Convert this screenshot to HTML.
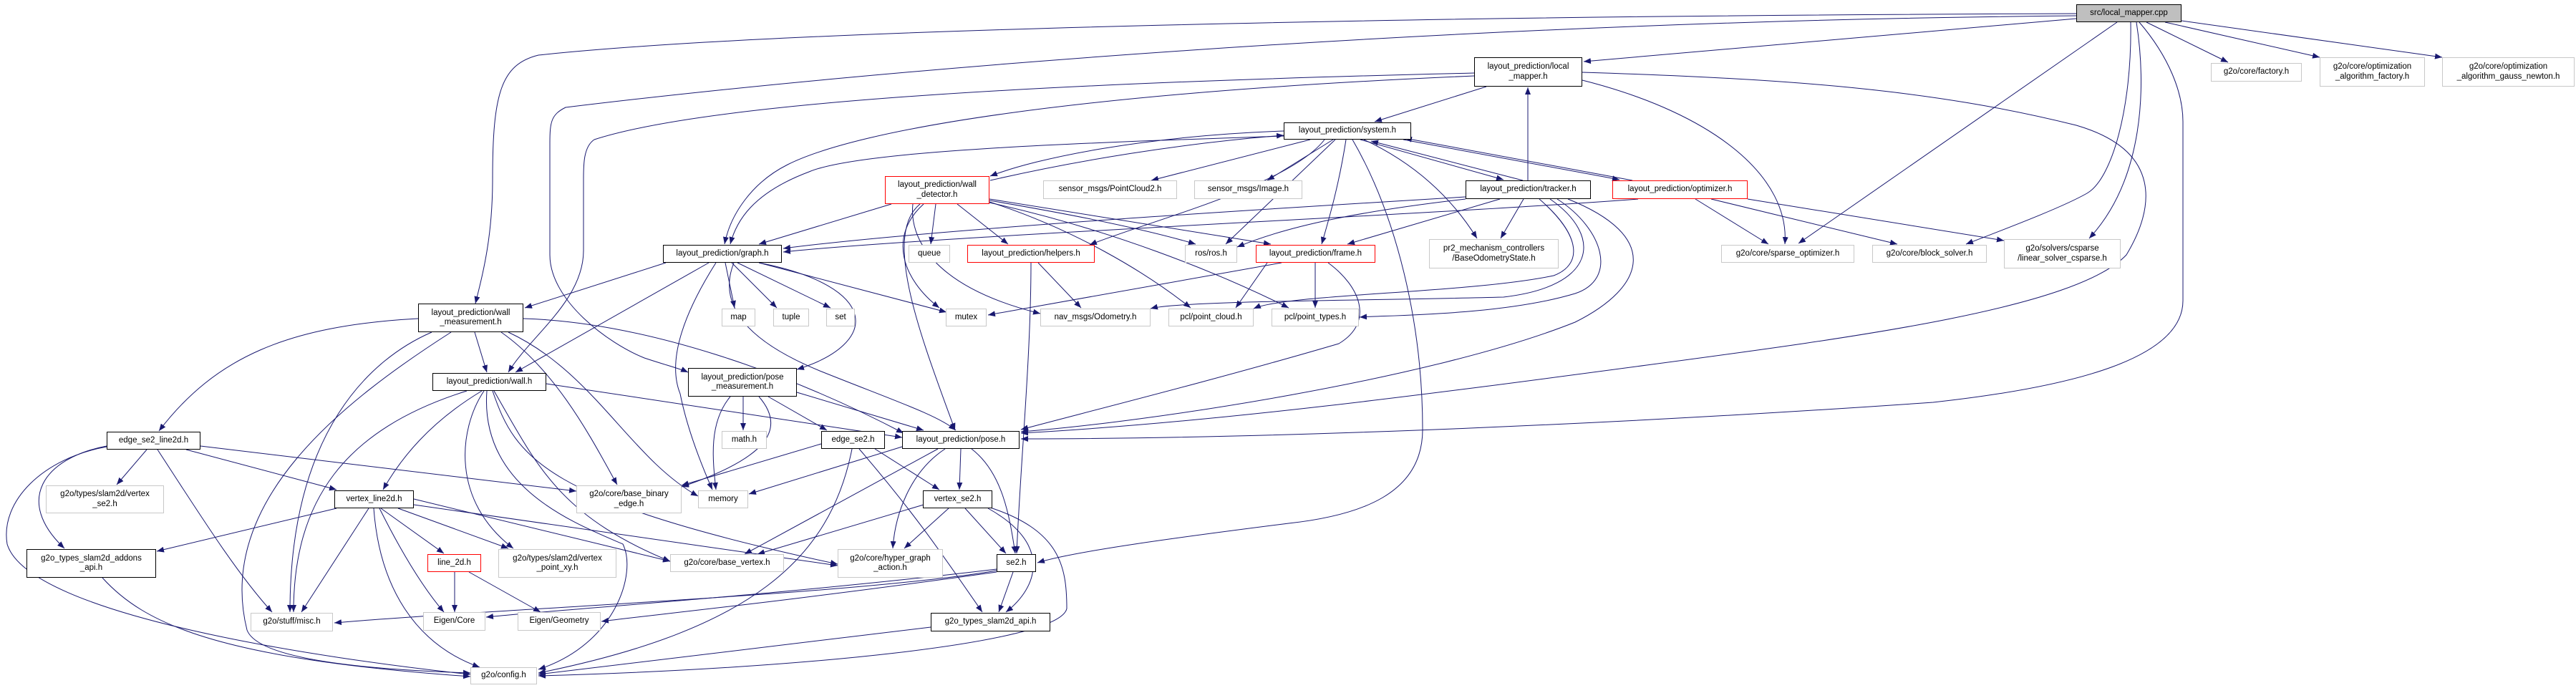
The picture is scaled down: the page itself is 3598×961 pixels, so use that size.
<!DOCTYPE html>
<html><head><meta charset="utf-8"><style>
html,body{margin:0;padding:0;background:#fff;}
#c{position:relative;width:3598px;height:961px;overflow:hidden;background:#fff;}
svg{position:absolute;left:0;top:0;}
.n{position:absolute;box-sizing:border-box;display:flex;align-items:center;justify-content:center;text-align:center;font-family:"Liberation Sans",Arial,sans-serif;font-size:11.5px;line-height:13.5px;color:#000;background:#fff;white-space:nowrap;}
.b{border:1.5px solid #000;}
.g{border:1.5px solid #c8c8c8;}
.r{border:1.5px solid #ff0000;}
</style></head><body><div id="c">
<svg width="3598" height="961" viewBox="0 0 3598 961">
<defs><marker id="a" markerUnits="userSpaceOnUse" markerWidth="11" markerHeight="8" refX="10" refY="4" orient="auto"><path d="M0,0 L10,4 L0,8 z" fill="#191970"/></marker></defs>
<g fill="none" stroke="#191970" stroke-width="1" marker-end="url(#a)">
<path d="M2900,19 C2000,22 1100,40 752,77 C700,90 688,130 688,250 C688,330 675,380 664,424"/>
<path d="M2900,22 C2000,30 1200,100 790,150 C770,160 768,170 768,200 L768,356 C768,420 850,480 900,500 C930,510 950,515 961,520"/>
<path d="M2900,26 L2212,86"/>
<path d="M2957,31 L2512,340"/>
<path d="M2976,31 C2978,150 2950,250 2915,270 C2880,290 2800,320 2746,341"/>
<path d="M2984,31 C2998,120 2995,250 2918,333"/>
<path d="M2988,31 C3030,80 3049,130 3049,170 L3049,420 C3049,500 2900,540 2700,562 C2300,590 1800,613 1426,613"/>
<path d="M2998,31 L3112,87"/>
<path d="M3024,31 L3240,80"/>
<path d="M3047,29 L3411,80"/>
<path d="M2076,121 L1920,170"/>
<path d="M2059,102 C1500,115 1000,140 830,195 C815,205 815,230 815,250 L815,350 C815,420 740,470 710,520"/>
<path d="M2059,106 C1500,130 1200,180 1100,230 C1050,255 1020,300 1012,341"/>
<path d="M2210,112 C2400,160 2500,250 2493,341"/>
<path d="M2210,101 C2500,110 2700,125 2900,175 C3020,210 3010,290 2970,356 C2900,430 2600,470 2300,510 C2000,550 1700,590 1426,605"/>
<path d="M2134,252 L2134,122"/>
<path d="M1793,183 C1600,190 1450,220 1383,246"/>
<path d="M1383,252 C1500,225 1650,200 1793,189"/>
<path d="M1830,195 L1608,252"/>
<path d="M1862,195 L1770,252"/>
<path d="M1793,190 C1500,200 1200,210 1130,240 C1050,270 1028,310 1020,341"/>
<path d="M1865,195 L1712,341"/>
<path d="M1850,195 C1800,260 1600,310 1522,342"/>
<path d="M1880,195 C1870,260 1855,310 1846,341"/>
<path d="M1889,195 C1950,300 1987,450 1987,600 C1987,690 1900,720 1800,731 C1650,750 1500,770 1449,786"/>
<path d="M1900,195 L2100,251"/>
<path d="M2127,252 L1915,197"/>
<path d="M1960,195 L2262,251"/>
<path d="M2280,252 L1962,193"/>
<path d="M1905,195 C1980,230 2030,280 2063,333"/>
<path d="M1245,285 L1060,341"/>
<path d="M1307,285 L1300,341"/>
<path d="M1337,285 L1408,341"/>
<path d="M1382,280 C1500,300 1600,320 1670,341"/>
<path d="M1382,278 L1775,341"/>
<path d="M1382,282 C1500,320 1600,380 1663,430"/>
<path d="M1382,283 C1550,320 1700,380 1800,430"/>
<path d="M1290,285 C1240,330 1260,390 1312,430"/>
<path d="M1285,285 C1230,330 1290,480 1334,601"/>
<path d="M1275,285 C1270,330 1300,400 1453,438"/>
<path d="M1013,367 L1026,430"/>
<path d="M1022,367 L1085,430"/>
<path d="M1030,367 L1160,430"/>
<path d="M1060,367 L1322,436"/>
<path d="M1060,367 C1230,400 1230,480 1113,516"/>
<path d="M1025,367 C1000,430 1050,480 1150,520 C1250,560 1310,580 1335,601"/>
<path d="M1000,367 C960,430 930,500 950,550 C960,600 980,650 995,684"/>
<path d="M930,367 L733,430"/>
<path d="M990,367 L720,520"/>
<path d="M584,445 C400,455 300,500 222,602"/>
<path d="M663,464 L680,520"/>
<path d="M603,464 C520,500 405,600 405,855"/>
<path d="M630,464 C480,560 300,700 345,880 C360,920 500,935 657,940"/>
<path d="M700,464 C780,520 830,620 862,677"/>
<path d="M710,464 C830,520 880,640 975,693"/>
<path d="M731,445 C900,450 1100,520 1262,605"/>
<path d="M652,546 C480,600 410,700 410,855"/>
<path d="M673,546 C600,590 560,640 535,684"/>
<path d="M676,546 C640,600 630,700 717,766"/>
<path d="M680,546 C670,680 800,730 870,760 C890,800 860,900 752,935"/>
<path d="M690,546 C750,650 780,720 936,784"/>
<path d="M688,546 C720,640 760,700 1170,788"/>
<path d="M763,536 L1260,611"/>
<path d="M205,628 L163,677"/>
<path d="M260,628 L470,684"/>
<path d="M280,623 L805,686"/>
<path d="M220,628 C280,720 330,800 380,855"/>
<path d="M149,623 C60,640 20,700 90,766"/>
<path d="M149,624 C60,640 0,700 10,760 C40,860 450,920 657,942"/>
<path d="M470,710 L219,770"/>
<path d="M515,710 L421,855"/>
<path d="M532,710 L620,773"/>
<path d="M530,710 C560,770 590,820 620,855"/>
<path d="M522,710 C530,820 580,900 670,932"/>
<path d="M556,710 L710,766"/>
<path d="M578,697 L936,784"/>
<path d="M578,705 L1170,790"/>
<path d="M143,807 C200,870 300,920 657,945"/>
<path d="M635,799 L635,855"/>
<path d="M655,799 L755,855"/>
<path d="M1038,554 L1038,601"/>
<path d="M1073,554 L1155,601"/>
<path d="M1113,548 L1290,601"/>
<path d="M1020,554 C990,590 995,640 1000,684"/>
<path d="M1060,554 C1100,600 1070,640 952,680"/>
<path d="M1147,620 L952,678"/>
<path d="M1222,627 L1312,684"/>
<path d="M1200,627 C1280,720 1320,780 1372,855"/>
<path d="M1190,627 C1160,780 1050,880 752,940"/>
<path d="M1260,624 L1046,690"/>
<path d="M1342,627 L1340,684"/>
<path d="M1357,627 C1400,660 1410,720 1418,773"/>
<path d="M1310,627 L1040,774"/>
<path d="M1320,627 C1270,660 1250,720 1247,766"/>
<path d="M1290,705 L1058,774"/>
<path d="M1325,710 L1263,766"/>
<path d="M1348,710 L1405,773"/>
<path d="M1380,710 C1470,760 1450,820 1405,855"/>
<path d="M1380,708 C1480,740 1490,790 1490,850 C1480,900 1100,935 752,944"/>
<path d="M1415,799 L1395,855"/>
<path d="M1392,797 C1200,830 700,850 467,870"/>
<path d="M1392,795 C1100,830 800,850 679,862"/>
<path d="M1392,799 C1100,840 900,860 840,868"/>
<path d="M1300,876 L752,942"/>
<path d="M1440,367 C1440,500 1425,650 1420,773"/>
<path d="M1450,367 L1510,430"/>
<path d="M1790,367 L1380,440"/>
<path d="M1770,367 L1726,430"/>
<path d="M1837,367 L1837,430"/>
<path d="M1855,367 C1900,400 1920,450 1870,480 C1700,530 1500,580 1426,600"/>
<path d="M2047,275 C1800,290 1300,320 1094,347"/>
<path d="M2095,278 L1882,341"/>
<path d="M2128,278 L2096,333"/>
<path d="M2047,278 C1900,295 1800,315 1728,345"/>
<path d="M2150,278 C2210,330 2210,370 2170,385 C2050,410 1800,410 1751,431"/>
<path d="M2175,278 C2240,320 2260,390 2200,410 C2100,440 1950,440 1899,443"/>
<path d="M2165,278 C2240,330 2230,400 2100,415 C1900,420 1650,420 1607,431"/>
<path d="M2190,278 C2320,330 2300,400 2200,450 C2000,530 1600,590 1426,603"/>
<path d="M2288,278 C2000,300 1300,330 1094,352"/>
<path d="M2368,278 L2470,341"/>
<path d="M2390,278 L2650,341"/>
<path d="M2441,278 L2799,336"/>
</g></svg>

<div class="n b" style="left:2900px;top:6px;width:147px;height:25px;background:#bfbfbf">src/local_mapper.cpp</div>
<div class="n g" style="left:3088px;top:88px;width:127px;height:26px">g2o/core/factory.h</div>
<div class="n g" style="left:3240px;top:80px;width:147px;height:41px">g2o/core/optimization<br>_algorithm_factory.h</div>
<div class="n g" style="left:3411px;top:80px;width:185px;height:41px">g2o/core/optimization<br>_algorithm_gauss_newton.h</div>
<div class="n b" style="left:2059px;top:80px;width:151px;height:41px">layout_prediction/local<br>_mapper.h</div>
<div class="n b" style="left:1793px;top:171px;width:178px;height:24px">layout_prediction/system.h</div>
<div class="n r" style="left:1236px;top:246px;width:146px;height:39px">layout_prediction/wall<br>_detector.h</div>
<div class="n g" style="left:1457px;top:252px;width:187px;height:26px">sensor_msgs/PointCloud2.h</div>
<div class="n g" style="left:1668px;top:252px;width:151px;height:26px">sensor_msgs/Image.h</div>
<div class="n b" style="left:2047px;top:252px;width:175px;height:26px">layout_prediction/tracker.h</div>
<div class="n r" style="left:2252px;top:252px;width:189px;height:26px">layout_prediction/optimizer.h</div>
<div class="n g" style="left:1996px;top:334px;width:181px;height:41px">pr2_mechanism_controllers<br>/BaseOdometryState.h</div>
<div class="n g" style="left:2404px;top:342px;width:186px;height:25px">g2o/core/sparse_optimizer.h</div>
<div class="n g" style="left:2615px;top:342px;width:160px;height:25px">g2o/core/block_solver.h</div>
<div class="n g" style="left:2799px;top:334px;width:163px;height:41px">g2o/solvers/csparse<br>/linear_solver_csparse.h</div>
<div class="n b" style="left:926px;top:342px;width:166px;height:25px">layout_prediction/graph.h</div>
<div class="n g" style="left:1269px;top:342px;width:58px;height:25px">queue</div>
<div class="n r" style="left:1351px;top:342px;width:178px;height:25px">layout_prediction/helpers.h</div>
<div class="n g" style="left:1655px;top:342px;width:73px;height:25px">ros/ros.h</div>
<div class="n r" style="left:1754px;top:342px;width:167px;height:25px">layout_prediction/frame.h</div>
<div class="n g" style="left:1008px;top:431px;width:47px;height:25px">map</div>
<div class="n g" style="left:1080px;top:431px;width:50px;height:25px">tuple</div>
<div class="n g" style="left:1154px;top:431px;width:40px;height:25px">set</div>
<div class="n g" style="left:1321px;top:431px;width:57px;height:25px">mutex</div>
<div class="n g" style="left:1453px;top:431px;width:154px;height:25px">nav_msgs/Odometry.h</div>
<div class="n g" style="left:1632px;top:431px;width:119px;height:25px">pcl/point_cloud.h</div>
<div class="n g" style="left:1776px;top:431px;width:122px;height:25px">pcl/point_types.h</div>
<div class="n b" style="left:584px;top:424px;width:147px;height:40px">layout_prediction/wall<br>_measurement.h</div>
<div class="n b" style="left:604px;top:521px;width:159px;height:25px">layout_prediction/wall.h</div>
<div class="n b" style="left:961px;top:514px;width:152px;height:40px">layout_prediction/pose<br>_measurement.h</div>
<div class="n b" style="left:149px;top:603px;width:131px;height:25px">edge_se2_line2d.h</div>
<div class="n g" style="left:1008px;top:602px;width:63px;height:25px">math.h</div>
<div class="n b" style="left:1147px;top:602px;width:89px;height:25px">edge_se2.h</div>
<div class="n b" style="left:1260px;top:602px;width:164px;height:25px">layout_prediction/pose.h</div>
<div class="n g" style="left:64px;top:678px;width:165px;height:39px">g2o/types/slam2d/vertex<br>_se2.h</div>
<div class="n b" style="left:467px;top:685px;width:111px;height:25px">vertex_line2d.h</div>
<div class="n g" style="left:805px;top:678px;width:147px;height:39px">g2o/core/base_binary<br>_edge.h</div>
<div class="n g" style="left:975px;top:685px;width:70px;height:25px">memory</div>
<div class="n b" style="left:1289px;top:685px;width:97px;height:25px">vertex_se2.h</div>
<div class="n b" style="left:37px;top:767px;width:181px;height:40px">g2o_types_slam2d_addons<br>_api.h</div>
<div class="n r" style="left:597px;top:774px;width:75px;height:25px">line_2d.h</div>
<div class="n g" style="left:696px;top:767px;width:165px;height:40px">g2o/types/slam2d/vertex<br>_point_xy.h</div>
<div class="n g" style="left:936px;top:774px;width:159px;height:25px">g2o/core/base_vertex.h</div>
<div class="n g" style="left:1170px;top:767px;width:147px;height:40px">g2o/core/hyper_graph<br>_action.h</div>
<div class="n b" style="left:1392px;top:774px;width:55px;height:25px">se2.h</div>
<div class="n g" style="left:350px;top:856px;width:115px;height:26px">g2o/stuff/misc.h</div>
<div class="n g" style="left:591px;top:855px;width:87px;height:26px">Eigen/Core</div>
<div class="n g" style="left:723px;top:855px;width:116px;height:26px">Eigen/Geometry</div>
<div class="n b" style="left:1300px;top:856px;width:167px;height:26px">g2o_types_slam2d_api.h</div>
<div class="n g" style="left:657px;top:932px;width:93px;height:24px">g2o/config.h</div>
</div></body></html>
